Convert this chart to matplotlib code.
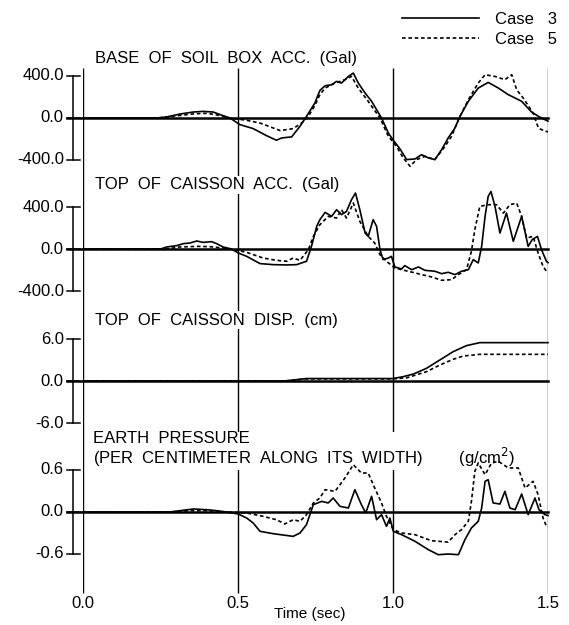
import numpy as np
import matplotlib
matplotlib.use("Agg")
from matplotlib import pyplot as plt
from matplotlib.lines import Line2D

plt.rcParams['font.family'] = ['Liberation Sans', 'DejaVu Sans']

# ---- data ----
t1_c3 = [0, 0.24, 0.27, 0.313, 0.356, 0.388, 0.42, 0.452, 0.474, 0.506, 0.549, 0.592, 0.624, 0.641, 0.673, 0.70, 0.721,
         0.748, 0.764, 0.781, 0.802, 0.818, 0.834, 0.856, 0.872, 0.888, 0.91, 0.931, 0.963, 0.985, 1.001, 1.022, 1.044,
         1.071, 1.092, 1.114, 1.135, 1.157, 1.178, 1.20, 1.216, 1.243, 1.275, 1.307, 1.34, 1.372, 1.394, 1.415, 1.447,
         1.469, 1.49, 1.5]
v1_c3 = [0, 0, 10, 38, 57, 63, 57, 22, 0, -63, -101, -168, -212, -190, -180, -79, 16,
         143, 262, 307, 317, 349, 333, 396, 428, 333, 238, 159, 0, -143, -212, -292, -396,
         -390, -349, -380, -396, -301, -190, -95, 16, 159, 285, 339, 285, 222, 190, 159, 57,
         16, -16, -30]
t1_c5 = [0, 0.24, 0.30, 0.36, 0.40, 0.44, 0.474, 0.528, 0.571, 0.636, 0.678, 0.705, 0.727, 0.748, 0.764, 0.781, 0.813,
         0.845, 0.866, 0.888, 0.92, 0.958, 0.985, 1.011, 1.033, 1.055, 1.076, 1.103, 1.135, 1.168, 1.189, 1.211, 1.243,
         1.275, 1.297, 1.329, 1.361, 1.383, 1.399, 1.42, 1.452, 1.469, 1.49, 1.5]
v1_c5 = [0, 0, 20, 40, 45, 25, 0, -22, -48, -120, -101, -48, 16, 120, 222, 285, 333,
         365, 396, 285, 159, 0, -174, -269, -380, -460, -396, -365, -396, -269, -174, -16, 174,
         333, 412, 396, 365, 412, 269, 190, 48, -95, -127, -130]

t2_c3 = [0, 0.25, 0.27, 0.302, 0.324, 0.345, 0.367, 0.388, 0.415, 0.431, 0.452, 0.479, 0.501, 0.528, 0.571, 0.614,
         0.657, 0.689, 0.721, 0.737, 0.754, 0.764, 0.781, 0.802, 0.818, 0.834, 0.85, 0.866, 0.879, 0.893, 0.91, 0.92,
         0.936, 0.947, 0.958, 0.968, 0.985, 0.995, 1.006, 1.028, 1.038, 1.06, 1.082, 1.103, 1.135, 1.157, 1.178, 1.20,
         1.221, 1.243, 1.259, 1.275, 1.286, 1.297, 1.307, 1.316, 1.329, 1.345, 1.366, 1.388, 1.415, 1.436, 1.449, 1.466,
         1.479, 1.495, 1.5]
v2_c3 = [0, 0, 19, 32, 51, 57, 76, 63, 70, 51, 19, 0, -38, -70, -139, -149,
         -152, -149, -117, 25, 216, 279, 349, 311, 374, 327, 358, 469, 533, 374, 152, 120,
         279, 216, -6, -101, -86, -70, -171, -190, -158, -197, -171, -203, -212, -235, -222, -244,
         -212, -197, -101, -133, 25, 311, 501, 548, 406, 152, 342, 73, 311, 25, 89, 120,
         -6, -117, -130]
t2_c5 = [0, 0.27, 0.31, 0.37, 0.41, 0.45, 0.479, 0.528, 0.581, 0.624, 0.657, 0.678, 0.70, 0.727, 0.743, 0.764, 0.791,
         0.818, 0.834, 0.85, 0.872, 0.893, 0.92, 0.941, 0.958, 0.979, 1.006, 1.071, 1.124, 1.157, 1.189, 1.211, 1.237,
         1.253, 1.264, 1.28, 1.307, 1.334, 1.356, 1.377, 1.399, 1.415, 1.431, 1.452, 1.468, 1.484, 1.495, 1.5]
v2_c5 = [0, 0, 19, 25, 22, 10, 0, -32, -86, -108, -117, -86, -108, -6, 120, 231, 311,
         295, 374, 295, 437, 263, 120, 57, -54, -117, -181, -228, -266, -298, -292, -244, -197,
         -22, 184, 406, 422, 422, 342, 422, 437, 311, 105, 120, -38, -165, -212, -220]

t3_c3 = [0, 0.65, 0.72, 0.85, 1.0, 1.033, 1.066, 1.108, 1.151, 1.194, 1.237, 1.28, 1.5]
v3_c3 = [0, 0, 0.35, 0.35, 0.35, 0.62, 1.0, 1.81, 3.0, 4.19, 5.05, 5.48, 5.48]
t3_c5 = [0, 0.65, 0.72, 1.0, 1.044, 1.108, 1.151, 1.194, 1.227, 1.28, 1.5]
v3_c5 = [0, 0, 0.3, 0.3, 0.45, 1.33, 2.28, 3.1, 3.57, 3.81, 3.81]

t4_c3 = [0, 0.28, 0.313, 0.356, 0.399, 0.431, 0.463, 0.501, 0.528, 0.549, 0.571, 0.614, 0.678, 0.70, 0.721, 0.732,
         0.743, 0.77, 0.791, 0.807, 0.829, 0.856, 0.877, 0.898, 0.912, 0.931, 0.947, 0.963, 0.979, 0.99, 1.001, 1.028,
         1.071, 1.114, 1.146, 1.178, 1.211, 1.232, 1.253, 1.275, 1.286, 1.297, 1.307, 1.323, 1.345, 1.361, 1.377, 1.394,
         1.415, 1.436, 1.458, 1.471, 1.49, 1.5]
v4_c3 = [0, 0, 0.019, 0.043, 0.033, 0.019, 0, -0.029, -0.086, -0.157, -0.276, -0.31, -0.348, -0.3, -0.18, -0.038,
         0.105, 0.152, 0.129, 0.2, 0.081, 0.057, 0.319, 0.105, -0.014, 0.224, -0.11, -0.038, -0.205, -0.086, -0.276, -0.324,
         -0.419, -0.538, -0.61, -0.6, -0.61, -0.395, -0.228, -0.133, 0.057, 0.438, 0.462, 0.129, 0.114, 0.295, 0.057, 0.033,
         0.257, -0.038, 0.2, 0.033, -0.038, -0.05]
t4_c5 = [0, 0.28, 0.35, 0.40, 0.463, 0.528, 0.581, 0.624, 0.651, 0.678, 0.70, 0.721, 0.743, 0.764, 0.781, 0.813,
         0.845, 0.872, 0.898, 0.92, 0.941, 0.963, 0.979, 1.001, 1.028, 1.071, 1.124, 1.178, 1.20, 1.221, 1.243, 1.253,
         1.264, 1.275, 1.297, 1.318, 1.34, 1.372, 1.404, 1.426, 1.452, 1.468, 1.484, 1.495, 1.5]
v4_c5 = [0, 0, 0.02, 0.02, 0, -0.014, -0.062, -0.11, -0.171, -0.11, -0.133, -0.038, 0.129, 0.2, 0.319, 0.295,
         0.486, 0.676, 0.557, 0.557, 0.343, 0.129, -0.062, -0.252, -0.3, -0.324, -0.41, -0.43, -0.324, -0.252, -0.133, 0.152,
         0.58, 0.7, 0.533, 0.7, 0.724, 0.629, 0.629, 0.343, 0.438, 0.248, -0.086, -0.205, -0.21]

scales = [400.0, 400.0, 6.0, 0.6]
tick_labels = [["400.0", "0.0", "-400.0"], ["400.0", "0.0", "-400.0"],
               ["6.0", "0.0", "-6.0"], ["0.6", "0.0", "-0.6"]]
x_ticks = [0.0, 0.5, 1.0, 1.5]
x_tick_labels = ["0.0", "0.5", "1.0", "1.5"]
series = [(t1_c3, v1_c3, t1_c5, v1_c5), (t2_c3, v2_c3, t2_c5, v2_c5),
          (t3_c3, v3_c3, t3_c5, v3_c5), (t4_c3, v4_c3, t4_c5, v4_c5)]

# ---- layout in pixels ----
W, H = 569, 625
L, R = 83, 548
centers = [118, 249, 381, 512]
half = 65
amp = 42.0
fs = 12

fig = plt.figure(figsize=(W / 100, H / 100), dpi=100)

# background axes for the long vertical lines
bg = fig.add_axes([L / W, 0, (R - L) / W, 1])
bg.set_xlim(0, 1.5)
bg.set_ylim(H, 0)
bg.axis('off')
bg.set_zorder(-1)
bg.vlines(x_ticks, 68, 593, color='black', lw=1.0)

def ftext(x, y, s, **kw):
    kw.setdefault('fontsize', fs)
    kw.setdefault('zorder', -0.5)
    return fig.text(x / W, 1 - y / H, s, **kw)

white = dict(facecolor='white', edgecolor='none', pad=1.0)
ftext(95, 59, "BASE  OF  SOIL  BOX  ACC.  (Gal)", va='center', bbox=white)
ftext(95, 185, "TOP  OF  CAISSON  ACC.  (Gal)", va='center', bbox=white)
ftext(95, 320, "TOP  OF  CAISSON  DISP.  (cm)", va='center', bbox=white)
ftext(93, 450, "EARTH  PRESSURE\n(PER  CENTIMETER  ALONG  ITS  WIDTH)        (g/cm$^2$)",
      va='center', linespacing=0.95, bbox=white)

dash = (0, (2.2, 1.6))
for i, (ta, va, tb, vb) in enumerate(series):
    s = scales[i]
    cy = centers[i]
    ax = fig.add_axes([L / W, 1 - (cy + half) / H, (R - L) / W, 2 * half / H])
    ax.set_xlim(0, 1.5)
    ax.set_ylim(-s * half / amp, s * half / amp)
    ax.axis('off')
    ax.patch.set_visible(False)
    ax.plot([-0.052, 1.5], [0, 0], color='black', lw=1.8, clip_on=False)
    ax.plot([-0.032, -0.032], [-s, s], color='black', lw=1.1, clip_on=False)
    for yv, lab in zip([s, 0, -s], tick_labels[i]):
        ax.plot([-0.052, -0.01], [yv, yv], color='black', lw=1.1, clip_on=False)
        ax.text(-0.062, yv, lab, ha='right', va='center', fontsize=fs)
    ax.plot(ta, va, color='black', lw=1.2, clip_on=False)
    ax.plot(tb, vb, color='black', lw=1.2, linestyle=dash, clip_on=False)

for xv, lab in zip(x_ticks, x_tick_labels):
    bg.text(xv, 604, lab, ha='center', va='center', fontsize=fs)
ftext(310, 614, "Time (sec)", ha='center', va='center', fontsize=11)

handles = [Line2D([], [], color='black', lw=1.2),
           Line2D([], [], color='black', lw=1.2, linestyle=dash)]
fig.legend(handles, ["Case   3", "Case   5"], loc='upper right', bbox_to_anchor=(1.0, 1.0),
           frameon=False, fontsize=fs, handlelength=4.6, handletextpad=1.0,
           labelspacing=0.3, borderaxespad=0.3)

fig.savefig("out.png", dpi=100)
